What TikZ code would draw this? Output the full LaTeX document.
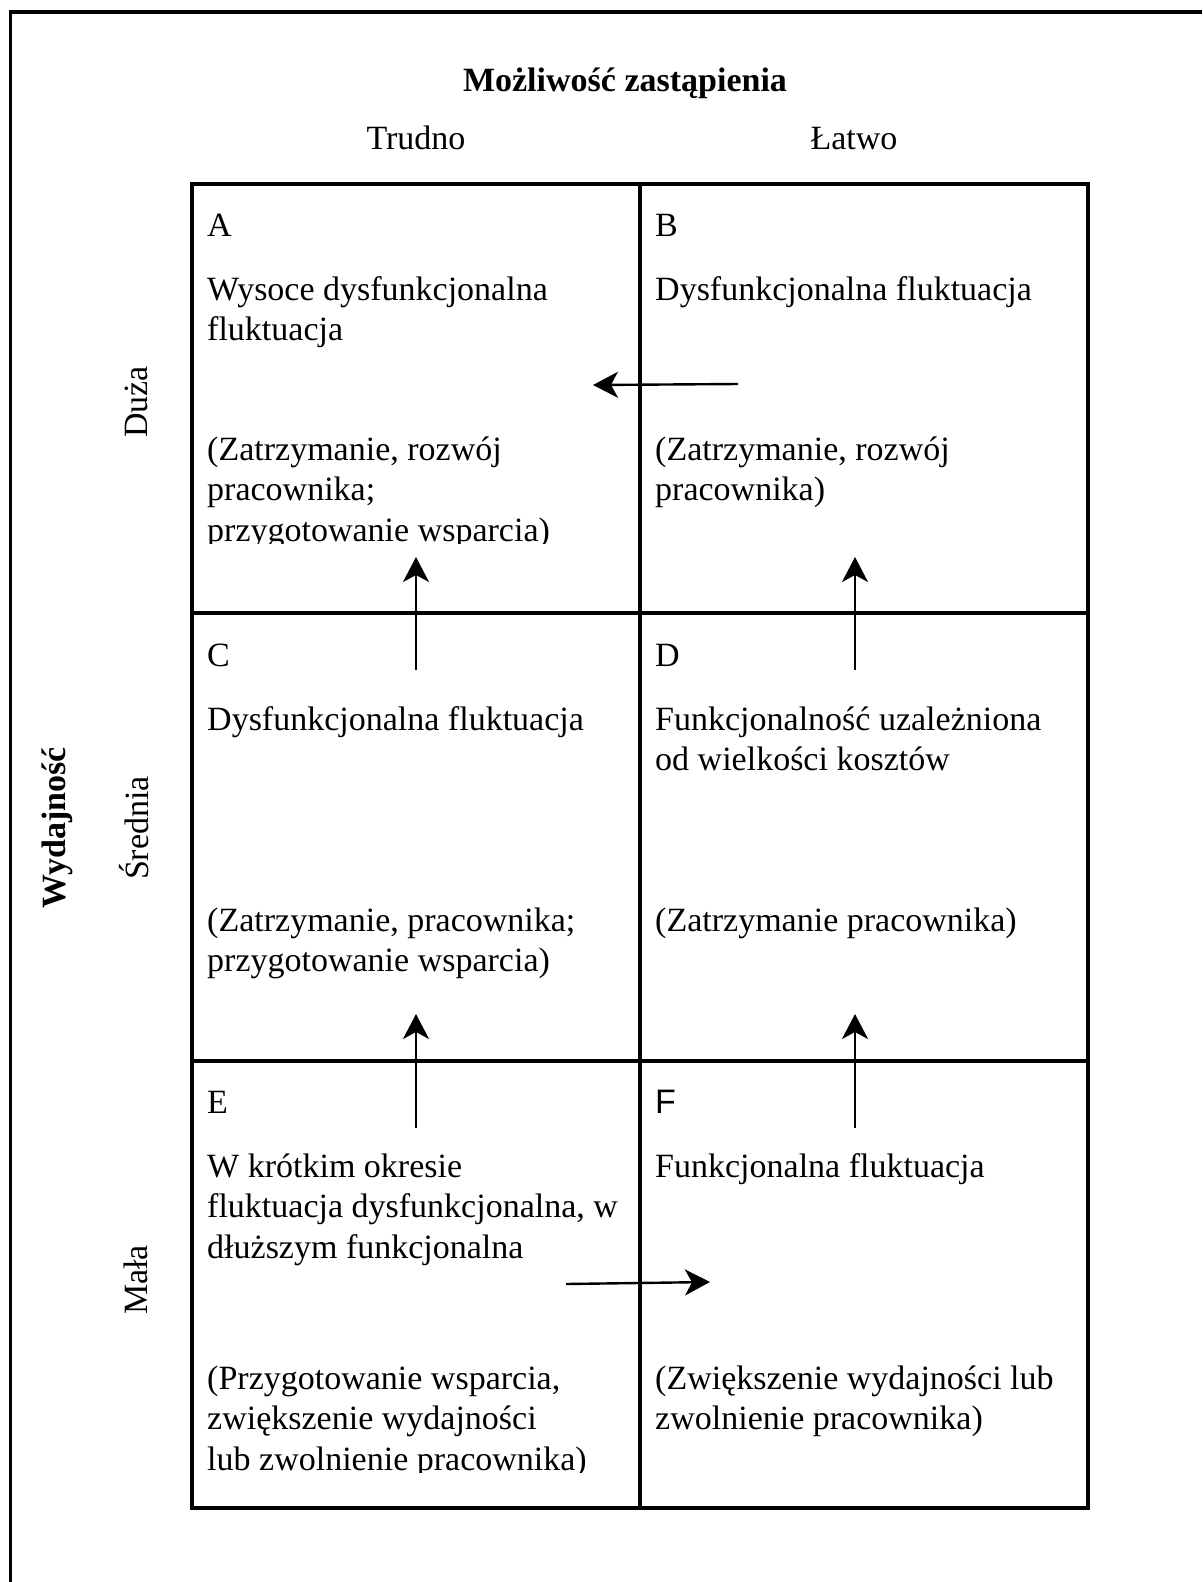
\documentclass[tikz,border=0pt]{standalone}
\usepackage{fontspec}
\setmainfont{Liberation Serif}
\newfontfamily\lettersans{Liberation Sans}
\usetikzlibrary{arrows.meta}

% multi-line blocks are placed by the baseline of their last line
\tikzset{
  body/.style={font=\fontsize{34}{40.5}\selectfont, inner sep=0pt, align=left, anchor=base west},
  heading/.style={font=\fontsize{34}{40}\selectfont\bfseries, inner sep=0pt},
  axislabel/.style={font=\fontsize{34}{40}\selectfont, inner sep=0pt},
  gridline/.style={line width=3.2pt},
  flow/.style={line width=2.4pt, -{Stealth[length=25pt, width=26pt, inset=7pt]}}
}

\begin{document}
\begin{tikzpicture}[x=1pt, y=-1pt]
  \useasboundingbox (0,0) rectangle (1202,1582);

  % open outer frame (top and left edges)
  \draw[line width=3.2pt] (10.5,1582) -- (10.5,12) -- (1202,12);

  % column headings
  \node[heading] (title) at (625,83) {Możliwość zastąpienia};
  \node[axislabel, anchor=base] (hard) at (416,149) {Trudno};
  \node[axislabel, anchor=base] (easy) at (854,149) {Łatwo};

  % row headings
  \node[heading, rotate=90] (perf) at (57,828) {Wydajność};
  \node[axislabel, rotate=90] (high) at (136,402) {Duża};
  \node[axislabel, rotate=90] (mid) at (134,828) {Średnia};
  \node[axislabel, rotate=90] (low) at (136,1280) {Mała};

  % 2x3 grid
  \draw[gridline] (192,184) rectangle (1088,1508);
  \draw[gridline] (640,184) -- (640,1508);
  \draw[gridline] (192,613) -- (1088,613);
  \draw[gridline] (192,1061) -- (1088,1061);

  % cell A
  \node[body] (Aletter) at (207,236) {A};
  \node[body] (Atitle) at (207,340.5) {Wysoce dysfunkcjonalna\\fluktuacja};
  \begin{scope}
    \clip (194,400) rectangle (638,543);
    \node[body] (Anote) at (207,541) {(Zatrzymanie, rozwój\\pracownika;\\przygotowanie wsparcia)};
  \end{scope}

  % cell B
  \node[body] (Bletter) at (655,236) {B};
  \node[body] (Btitle) at (655,300) {Dysfunkcjonalna fluktuacja};
  \node[body] (Bnote) at (655,500.5) {(Zatrzymanie, rozwój\\pracownika)};

  % cell C
  \node[body] (Cletter) at (207,666) {C};
  \node[body] (Ctitle) at (207,730) {Dysfunkcjonalna fluktuacja};
  \node[body] (Cnote) at (207,971.5) {(Zatrzymanie, pracownika;\\przygotowanie wsparcia)};

  % cell D
  \node[body] (Dletter) at (655,666) {D};
  \node[body] (Dtitle) at (655,770.5) {Funkcjonalność uzależniona\\od wielkości kosztów};
  \node[body] (Dnote) at (655,931) {(Zatrzymanie pracownika)};

  % cell E
  \node[body] (Eletter) at (207,1113) {E};
  \node[body] (Etitle) at (207,1258) {W krótkim okresie\\fluktuacja dysfunkcjonalna, w\\dłuższym funkcjonalna};
  \begin{scope}
    \clip (194,1300) rectangle (638,1472);
    \node[body] (Enote) at (207,1470) {(Przygotowanie wsparcia,\\zwiększenie wydajności\\lub zwolnienie pracownika)};
  \end{scope}

  % cell F
  \node[body, font=\fontsize{34}{40}\lettersans] (Fletter) at (655,1113) {F};
  \node[body] (Ftitle) at (655,1177) {Funkcjonalna fluktuacja};
  \node[body] (Fnote) at (655,1429.5) {(Zwiększenie wydajności lub\\zwolnienie pracownika)};

  % arrow end points
  \coordinate (BAfrom) at (738,384);
  \coordinate (BAto) at (593,385);
  \coordinate (CAfrom) at (416,670);
  \coordinate (CAto) at (416,557);
  \coordinate (DBfrom) at (855,670);
  \coordinate (DBto) at (855,557);
  \coordinate (ECfrom) at (416,1128);
  \coordinate (ECto) at (416,1014);
  \coordinate (FDfrom) at (855,1128);
  \coordinate (FDto) at (855,1014);
  \coordinate (EFfrom) at (566,1284);
  \coordinate (EFto) at (710,1282);

  % transitions
  \draw[flow] (BAfrom) -- (BAto);
  \draw[flow] (CAfrom) -- (CAto);
  \draw[flow] (DBfrom) -- (DBto);
  \draw[flow] (ECfrom) -- (ECto);
  \draw[flow] (FDfrom) -- (FDto);
  \draw[flow] (EFfrom) -- (EFto);
\end{tikzpicture}
\end{document}
